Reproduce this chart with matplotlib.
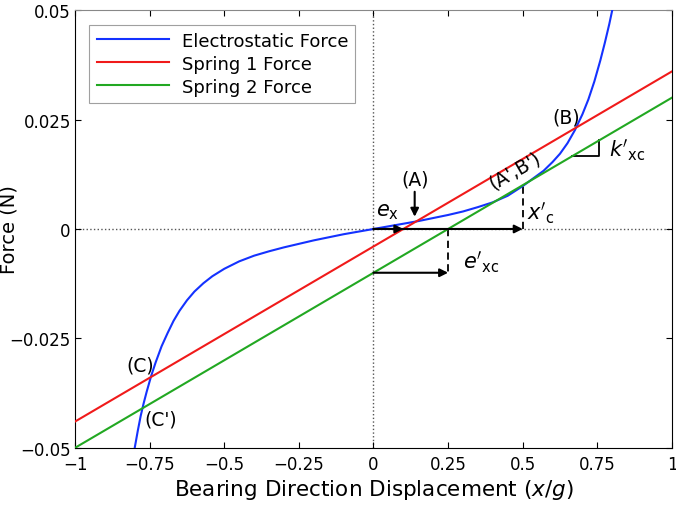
import numpy as np
import matplotlib
matplotlib.use('Agg')
import matplotlib.pyplot as plt

plt.rcParams['font.family'] = ['DejaVu Sans']
plt.rcParams['mathtext.fontset'] = 'dejavusans'

# electrostatic force
x_es = [-0.800, -0.790, -0.780, -0.770, -0.760, -0.745, -0.730, -0.710, -0.690, -0.670,
        -0.650, -0.625, -0.600, -0.570, -0.540, -0.500, -0.450, -0.400, -0.350, -0.300,
        -0.250, -0.200, -0.150, -0.100, -0.050, 0.000, 0.050, 0.100, 0.150, 0.200,
        0.250, 0.300, 0.350, 0.400, 0.450, 0.500, 0.540, 0.570, 0.600, 0.625,
        0.650, 0.675, 0.700, 0.720, 0.740, 0.760, 0.775, 0.790, 0.800]
f_es = [-0.0500, -0.0462, -0.0427, -0.0398, -0.0372, -0.0336, -0.0305, -0.0268, -0.0238, -0.0210,
        -0.0187, -0.0163, -0.0143, -0.0124, -0.0108, -0.0091, -0.0074, -0.0061, -0.0051, -0.0042,
        -0.0034, -0.0026, -0.0019, -0.0012, -0.0006, 0.0000, 0.0006, 0.0012, 0.0018, 0.0025,
        0.0032, 0.0040, 0.0050, 0.0061, 0.0076, 0.0098, 0.0118, 0.0133, 0.0153, 0.0172,
        0.0196, 0.0226, 0.0262, 0.0296, 0.0337, 0.0385, 0.0425, 0.0468, 0.0500]

# springs (straight lines, end points)
x_spring = [-1.0, 1.0]
f_spring1 = [-0.044, 0.036]
f_spring2 = [-0.050, 0.030]

xticks = [-1, -0.75, -0.5, -0.25, 0, 0.25, 0.5, 0.75, 1]
xticklabels = ['\u22121', '\u22120.75', '\u22120.5', '\u22120.25', '0', '0.25', '0.5', '0.75', '1']
yticks = [-0.05, -0.025, 0, 0.025, 0.05]
yticklabels = ['\u22120.05', '\u22120.025', '0', '0.025', '0.05']

def spring2(x):
    return np.interp(x, x_spring, f_spring2)

fig = plt.figure(figsize=(6.76, 5.06), dpi=100)
ax = fig.add_axes([0.111, 0.113, 0.883, 0.865])

ax.axhline(0, color='#555555', lw=1, ls=':', zorder=1)
ax.axvline(0, color='#555555', lw=1, ls=':', zorder=1)

ax.plot(x_es, f_es, color='#1432ff', lw=1.5, label='Electrostatic Force', zorder=3)
ax.plot(x_spring, f_spring1, color='#f01a1a', lw=1.5, label='Spring 1 Force', zorder=3)
ax.plot(x_spring, f_spring2, color='#22a822', lw=1.5, label='Spring 2 Force', zorder=3)

ax.set_xlim(-1, 1)
ax.set_ylim(-0.05, 0.05)
ax.set_xticks(xticks)
ax.set_xticklabels(xticklabels)
ax.set_yticks(yticks)
ax.set_yticklabels(yticklabels)
ax.tick_params(direction='in', top=True, right=True, labelsize=12, length=4, pad=3)
ax.tick_params(axis='x', pad=5)
ax.spines['top'].set_color('#888888')

ax.set_xlabel('Bearing Direction Displacement $\\mathit{(x/g)}$', fontsize=15.5, labelpad=3)
ax.set_ylabel('Force (N)', fontsize=14)
ax.yaxis.set_label_coords(-0.095, 0.5)

leg = ax.legend(loc='upper left', fontsize=13, handlelength=4.0, handletextpad=0.7,
                frameon=True, fancybox=False, edgecolor='#888888',
                borderaxespad=0.8, labelspacing=0.27, borderpad=0.4)
leg.get_frame().set_linewidth(0.8)

# construction arrows
arr = dict(arrowstyle='-|>', color='black', lw=1.5, mutation_scale=12, shrinkA=0, shrinkB=0)
ax.annotate('', xy=(0.5, 0), xytext=(0.0, 0), arrowprops=arr, zorder=4)
ax.annotate('', xy=(0.1, 0), xytext=(0.0, 0), arrowprops=arr, zorder=4)
ax.annotate('', xy=(0.25, -0.01), xytext=(0.0, -0.01), arrowprops=arr, zorder=4)
ax.annotate('', xy=(0.138, 0.0028), xytext=(0.138, 0.0085), arrowprops=arr, zorder=4)

ax.plot([0.5, 0.5], [0, spring2(0.5)], color='black', lw=1.3, ls='--', dashes=(4, 2.5))
ax.plot([0.25, 0.25], [0, -0.01], color='black', lw=1.3, ls='--', dashes=(4, 2.5))

# slope triangle
x1, x2 = 0.666, 0.757
ax.plot([x1, x2, x2], [spring2(x1), spring2(x1), spring2(x2)], color='black', lw=1.3)

fs = 13.5
ax.text(0.139, 0.0114, '(A)', fontsize=fs, ha='center', va='center')
ax.text(0.645, 0.0256, '(B)', fontsize=fs, ha='center', va='center')
ax.text(0.472, 0.0136, "(A',B')", fontsize=fs, ha='center', va='center', rotation=30)
ax.text(-0.782, -0.0310, '(C)', fontsize=fs, ha='center', va='center')
ax.text(-0.712, -0.0434, "(C')", fontsize=fs, ha='center', va='center')

ax.text(0.047, 0.0041, '$e_{\\rm x}$', fontsize=15, ha='center', va='center')
ax.text(0.515, 0.0039, "$x'_{\\rm c}$", fontsize=15, ha='left', va='center')
ax.text(0.30, -0.0073, "$e'_{\\rm xc}$", fontsize=15, ha='left', va='center')
ax.text(0.79, 0.0183, "$k'_{\\rm xc}$", fontsize=15, ha='left', va='center')

fig.savefig('out.png', dpi=100)
